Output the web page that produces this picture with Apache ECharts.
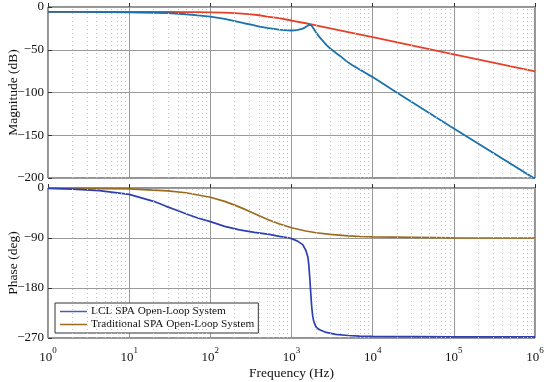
<!DOCTYPE html>
<html><head><meta charset="utf-8">
<script src="https://cdn.jsdelivr.net/npm/echarts@6/dist/echarts.min.js"></script>
<style>html,body{margin:0;padding:0;background:#fff}#c{width:550px;height:382px}</style>
</head><body><div id="c"></div>
<script>
// ---- data ----
const lclMagFreq = [1, 2, 5, 10, 20, 30, 50, 70, 100, 150, 200, 260, 330, 400, 500, 700, 900, 1000, 1100, 1200, 1300, 1400, 1480, 1550, 1600, 1650, 1680, 1714, 1740, 1760, 1800, 1850, 1920, 2000, 2100, 2200, 2450, 2700, 3000, 3500, 4000, 4700, 5500, 7000, 10000, 20000, 100000, 1000000];
const lclMagDb   = [-5.8, -5.8, -6.0, -6.3, -6.7, -7.1, -8.5, -9.9, -11.3, -14, -16.5, -19, -21, -23, -24.5, -26.5, -27.4, -27.5, -27.3, -26.8, -26, -25, -23.8, -22.5, -21.4, -20.8, -20.4, -20, -20.6, -21.5, -23, -24.5, -27, -29.5, -32.3, -35, -40, -44.5, -48.5, -53.5, -57.5, -63, -67.5, -73.5, -82, -100.3, -142, -201];
const tradMagFreq = [1, 10, 20, 30, 50, 70, 100, 150, 200, 300, 400, 500, 700, 1000, 1500, 1714, 2000, 3000, 5000, 10000, 100000, 1000000];
const tradMagDb   = [-5.8, -5.8, -5.82, -5.85, -5.9, -6.0, -6.2, -6.6, -7.1, -8.4, -9.65, -11.2, -13.1, -15.8, -19.0, -20.1, -21.4, -24.9, -29.3, -35.3, -55.3, -75.3];
const lclPhFreq = [1, 2, 4.3, 10, 20, 28.6, 40, 55, 70, 100, 150, 229, 350, 532, 710, 945, 1040, 1200, 1376, 1500, 1590, 1630, 1660, 1690, 1710, 1746, 1780, 1823, 1860, 1900, 2003, 2150, 2300, 2675, 3500, 5000, 6880, 10000, 100000, 1000000];
const lclPhDeg  = [-0.8, -2, -4.8, -11.5, -24, -33, -41, -48.5, -54, -60.5, -69, -75.5, -80, -83.5, -87, -90, -92, -96, -102, -112, -124, -137, -152, -167, -180, -200, -216, -230, -237, -242, -250, -254, -256, -260, -263.5, -265.5, -266.5, -267, -268, -268];
const tradPhFreq = [1, 10, 30, 50, 100, 150, 200, 250, 300, 400, 500, 600, 700, 1000, 1500, 2000, 3000, 5000, 7000, 10000, 100000, 1000000];
const tradPhDeg  = [-0.2, -1.7, -5.1, -8.5, -16.6, -24.1, -30.8, -36.7, -41.8, -50, -56.2, -60.8, -64.4, -71.5, -77.4, -80.5, -83.6, -86.2, -87.3, -88.1, -89.8, -90];
const magTicks = [0, -50, -100, -150, -200];
const phaseTicks = [0, -90, -180, -270];
const seriesNames = ['LCL SPA Open-Loop System', 'Traditional SPA Open-Loop System'];

const zip = (a, b) => a.map((v, i) => [v, b[i]]);
const FONT = '"Liberation Serif", "Times New Roman", serif';
// positions of the dotted minor grid lines (2..9 x 10^k), in decades
const minorLines = [];
for (let k = 0; k < 6; k++) for (let m = 2; m <= 9; m++) minorLines.push({xAxis: k + Math.log10(m)});

function xAx(gridIndex, showLabels) {
  return {
    type: 'log', logBase: 10, min: 1, max: 1e6, gridIndex, splitNumber: 6,
    axisLine: {show: false}, axisTick: {show: true, inside: true, length: 4, lineStyle: {color: '#333'}},
    splitLine: {show: true, lineStyle: {color: '#9a9a9a', width: 1}},
    axisLabel: showLabels ? {
      show: true, margin: 8,
      formatter: v => '{a|10}{b|' + Math.round(Math.log10(v)) + '}',
      rich: {a: {fontSize: 13, fontFamily: FONT, color: '#111', lineHeight: 18, verticalAlign: 'bottom'},
             b: {fontSize: 9, fontFamily: FONT, color: '#111', lineHeight: 18, verticalAlign: 'top'}}
    } : {show: false},
    name: showLabels ? 'Frequency (Hz)' : '', nameLocation: 'middle', nameGap: 28, nameMoveOverlap: false,
    nameTextStyle: {fontSize: 13.5, fontFamily: FONT, color: '#111'}
  };
}
function helperX(gridIndex) {
  return {type: 'value', gridIndex, min: 0, max: 6, show: false, splitLine: {show: false}};
}
function yAx(gridIndex, min, interval, name) {
  return {
    type: 'value', gridIndex, min, max: 0, interval,
    axisLine: {show: false}, axisTick: {show: true, inside: true, length: 4, lineStyle: {color: '#333'}},
    splitLine: {show: true, lineStyle: {color: '#9a9a9a', width: 1}},
    axisLabel: {margin: 4, fontSize: 13, fontFamily: FONT, color: '#111', formatter: v => String(v).replace('-', '\u2212')},
    name, nameLocation: 'middle', nameGap: 28, nameMoveOverlap: false,
    nameTextStyle: {fontSize: 13.5, fontFamily: FONT, color: '#111'}
  };
}
function minorSeries(xi, yi) {
  return {type: 'line', xAxisIndex: xi, yAxisIndex: yi, data: [], silent: true, z: 1,
    markLine: {silent: true, symbol: 'none', label: {show: false}, animation: false,
      lineStyle: {color: '#c4c4c4', type: [1, 3], width: 1}, data: minorLines}};
}

const chart = echarts.init(document.getElementById('c'), null, {renderer: 'canvas'});
chart.setOption({
  animation: false,
  grid: [
    {left: 48, right: 15, top: 7, height: 171, show: true, borderColor: '#262626', borderWidth: 1, backgroundColor: 'transparent', containLabel: false, outerBoundsMode: 'none'},
    {left: 48, right: 15, top: 188, height: 150, show: true, borderColor: '#262626', borderWidth: 1, backgroundColor: 'transparent', containLabel: false, outerBoundsMode: 'none'}
  ],
  xAxis: [xAx(0, false), xAx(1, true), helperX(0), helperX(1)],
  yAxis: [yAx(0, -200, 50, 'Magnitude (dB)'), yAx(1, -270, 90, 'Phase (deg)')],
  legend: {
    data: seriesNames, orient: 'vertical', left: 55, top: 303,
    backgroundColor: '#fff', borderColor: '#333', borderWidth: 1,
    padding: [2, 4, 2, 5], itemGap: 0, itemWidth: 27, itemHeight: 1.5, icon: 'rect',
    textStyle: {fontSize: 11.3, fontFamily: FONT, color: '#111', lineHeight: 13, padding: [0, 0, 0, -1]}
  },
  series: [
    minorSeries(2, 0), minorSeries(3, 1),
    {name: 'LCL mag', type: 'line', xAxisIndex: 0, yAxisIndex: 0, data: zip(lclMagFreq, lclMagDb), showSymbol: false, smooth: false, z: 4,
     lineStyle: {color: '#1a72ad', width: 1.8}, itemStyle: {color: '#1a72ad'}},
    {name: 'Trad mag', type: 'line', xAxisIndex: 0, yAxisIndex: 0, data: zip(tradMagFreq, tradMagDb), showSymbol: false, smooth: false, z: 3,
     lineStyle: {color: '#e4412b', width: 1.8}, itemStyle: {color: '#e4412b'}},
    {name: seriesNames[0], type: 'line', xAxisIndex: 1, yAxisIndex: 1, data: zip(lclPhFreq, lclPhDeg), showSymbol: false, smooth: false, z: 4,
     lineStyle: {color: '#2e3fb2', width: 1.7}, itemStyle: {color: '#4a5ab8'}},
    {name: seriesNames[1], type: 'line', xAxisIndex: 1, yAxisIndex: 1, data: zip(tradPhFreq, tradPhDeg), showSymbol: false, smooth: false, z: 3,
     lineStyle: {color: '#9a6b1f', width: 1.7}, itemStyle: {color: '#9a6b1f'}}
  ]
});
</script>
</body></html>
